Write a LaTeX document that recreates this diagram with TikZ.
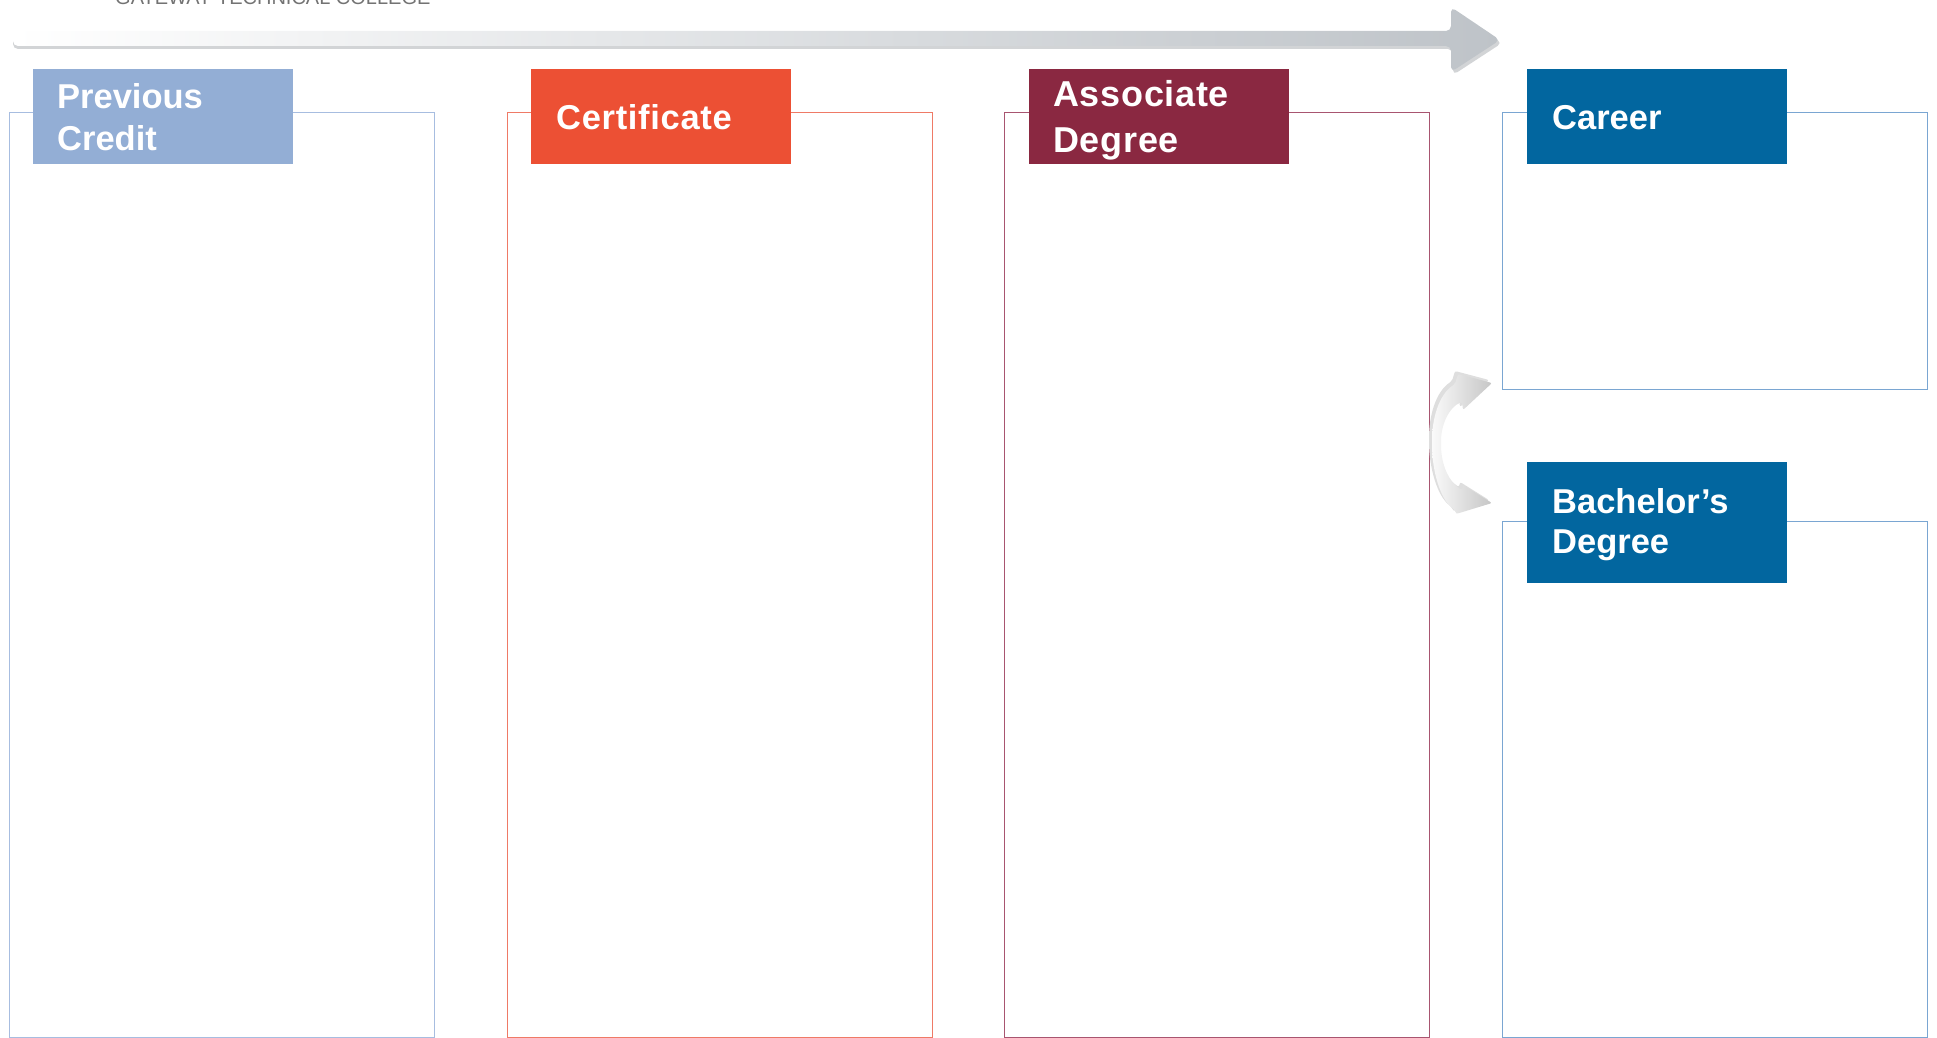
\documentclass[tikz,border=0pt]{standalone}
\usepackage{fontspec}
\setmainfont{Liberation Sans}[Ligatures=NoCommon]
\definecolor{pcH}{HTML}{93AED5}
\definecolor{pcO}{HTML}{A7BDE0}
\definecolor{ceH}{HTML}{EC5034}
\definecolor{ceO}{HTML}{EF7A66}
\definecolor{adH}{HTML}{8A2841}
\definecolor{adO}{HTML}{A85570}
\definecolor{blH}{HTML}{02669F}
\definecolor{blO}{HTML}{7AA6D2}
\definecolor{arrG}{HTML}{BEC3C8}
\definecolor{arrS}{HTML}{D2D4D6}
\begin{document}
\begin{tikzpicture}[x=1pt,y=-1pt,
  panel/.style={draw, line width=1.3pt, inner sep=0pt, anchor=north west, minimum width=425pt},
  hdr/.style={inner sep=0pt, anchor=north west, minimum width=260pt, minimum height=95pt},
  htxt/.style={text=white, font=\bfseries\fontsize{34.5}{41}\selectfont, anchor=base west, inner sep=0pt}]
\useasboundingbox (0,0) rectangle (1937,1038);

% college name (cut at the top)
\node[anchor=base west, inner sep=0pt, text=black!55, font=\fontsize{20}{20}\selectfont] (college) at (115,5) {GATEWAY TECHNICAL COLLEGE};

% big timeline arrow
\fill[arrS, rounded corners=5pt] (13,34) -- (1453,34) -- (1453,10) -- (1502,43) -- (1453,75) -- (1453,49) -- (13,49) -- cycle;
\shade[left color=white, right color=arrG, rounded corners=5pt]
  (13,31) -- (1451,31) -- (1451,7) -- (1500,40) -- (1451,72) -- (1451,46) -- (13,46) -- cycle;

% panels
\node[panel, draw=pcO, minimum height=925pt] (b1) at (8.5,112) {};
\node[panel, draw=ceO, minimum height=925pt] (b2) at (506.5,112) {};
\node[panel, draw=adO, minimum height=925pt] (b3) at (1004,112) {};
\node[panel, draw=blO, minimum height=277pt] (b4) at (1502,112) {};
\node[panel, draw=blO, minimum height=516pt] (b5) at (1502,521) {};

% headers
\node[hdr, fill=pcH] (h1) at (33,69) {};
\node[hdr, fill=ceH] (h2) at (531,69) {};
\node[hdr, fill=adH] (h3) at (1029,69) {};
\node[hdr, fill=blH] (h4) at (1527,69) {};
\node[hdr, fill=blH, minimum height=121pt] (h5) at (1527,462) {};

\node[htxt] (t1a) at (57,109) {Previous};
\node[htxt] (t1b) at (57,150) {Credit};
\node[htxt] (t2) at (556,130) {\addfontfeature{LetterSpace=2}Certificate};
\node[htxt, font=\bfseries\fontsize{36}{41}\selectfont] (t3a) at (1053,107) {\addfontfeature{LetterSpace=2}Associate};
\node[htxt, font=\bfseries\fontsize{36}{41}\selectfont] (t3b) at (1053,152) {\addfontfeature{LetterSpace=2}Degree};
\node[htxt] (t4) at (1552,130) {Career};
\node[htxt] (t5a) at (1552,513) {Bachelor’s};
\node[htxt] (t5b) at (1552,553) {Degree};

% curved double arrow (associate -> career / bachelor)
\fill[black!13, rounded corners=2pt, xshift=-3pt, yshift=3pt]
  (1455,384) .. controls (1438,395) and (1432,420) .. (1432,443)
  .. controls (1432,470) and (1440,500) .. (1455,510)
  -- (1456,514) -- (1492,503) -- (1463,485) -- (1462,490)
  .. controls (1449,482) and (1441,465) .. (1441,443)
  .. controls (1441,425) and (1449,407) .. (1462,402)
  -- (1463,410) -- (1492,383) -- (1458,374) -- cycle;
\shade[left color=gray!4, right color=gray!45, rounded corners=2pt]
  (1455,384) .. controls (1438,395) and (1432,420) .. (1432,443)
  .. controls (1432,470) and (1440,500) .. (1455,510)
  -- (1456,514) -- (1492,503) -- (1463,485) -- (1462,490)
  .. controls (1449,482) and (1441,465) .. (1441,443)
  .. controls (1441,425) and (1449,407) .. (1462,402)
  -- (1463,410) -- (1492,383) -- (1458,374) -- cycle;
\end{tikzpicture}
\end{document}
